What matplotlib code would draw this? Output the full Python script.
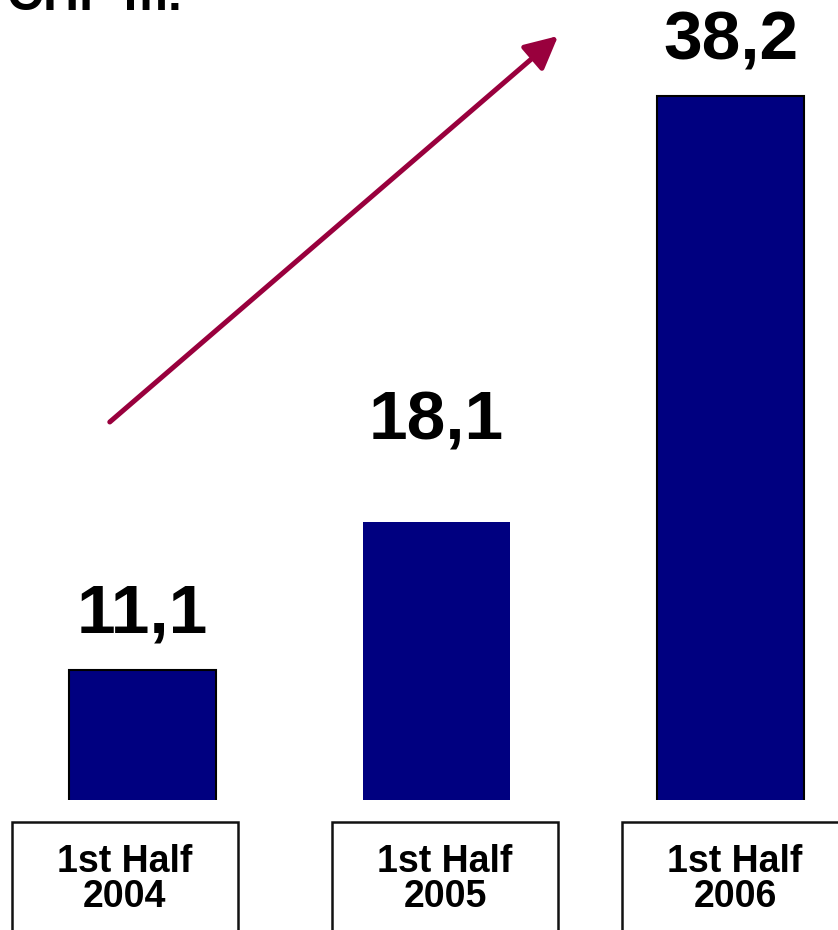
import matplotlib.pyplot as plt
from matplotlib.patches import Rectangle

plt.rcParams['font.family'] = ['Liberation Sans', 'DejaVu Sans']

periods = ['1st Half\n2004', '1st Half\n2005', '1st Half\n2006']
values = [11.1, 18.1, 38.2]
value_labels = ['11,1', '18,1', '38,2']
unit = 'CHF m.'

fig = plt.figure(figsize=(8.38, 9.30), dpi=100)
ax = fig.add_axes([0, 130 / 930, 1, 800 / 930])

x = list(range(len(values)))
ax.bar(x, values, width=0.5, color='#000080',
       edgecolor=['black', 'none', 'black'], linewidth=1.5)
ax.set_xlim(-0.4847, 2.3655)
ax.set_ylim(4.962, 42.73)
ax.axis('off')

# value labels above the bars (middle one sits a bit higher)
offsets = [27, 59, 26]
for xi, v, lab, off in zip(x, values, value_labels, offsets):
    ax.annotate(lab, (xi, v), xytext=(0, off), textcoords='offset points',
                ha='center', va='baseline', fontsize=50, fontweight='bold')

# growth arrow
ax.annotate('', xy=(0.666, 0.955), xytext=(0.131, 0.4725),
            xycoords='axes fraction', textcoords='axes fraction',
            arrowprops=dict(arrowstyle='-|>,head_length=2.0,head_width=1.0',
                            color='#99003D', lw=3.6, shrinkA=0, shrinkB=0))

# category boxes under the bars
box_left = [12, 332, 622]
box_width = 226
for left, name in zip(box_left, periods):
    fig.patches.append(Rectangle((left / 838, -0.05), box_width / 838,
                                 (930 - 822) / 930 + 0.05,
                                 transform=fig.transFigure, fill=False,
                                 edgecolor='#111111', linewidth=1.8))
    cx = (left + box_width / 2) / 838
    line1, line2 = name.split('\n')
    fig.text(cx, 1 - 872 / 930, line1, ha='center', va='baseline',
             fontsize=27, fontweight='bold')
    fig.text(cx, 1 - 907 / 930, line2, ha='center', va='baseline',
             fontsize=27, fontweight='bold')

fig.text(7 / 838, 1 - 10 / 930, unit, ha='left', va='baseline',
         fontsize=36, fontweight='bold')

fig.savefig('out.png', dpi=100)
